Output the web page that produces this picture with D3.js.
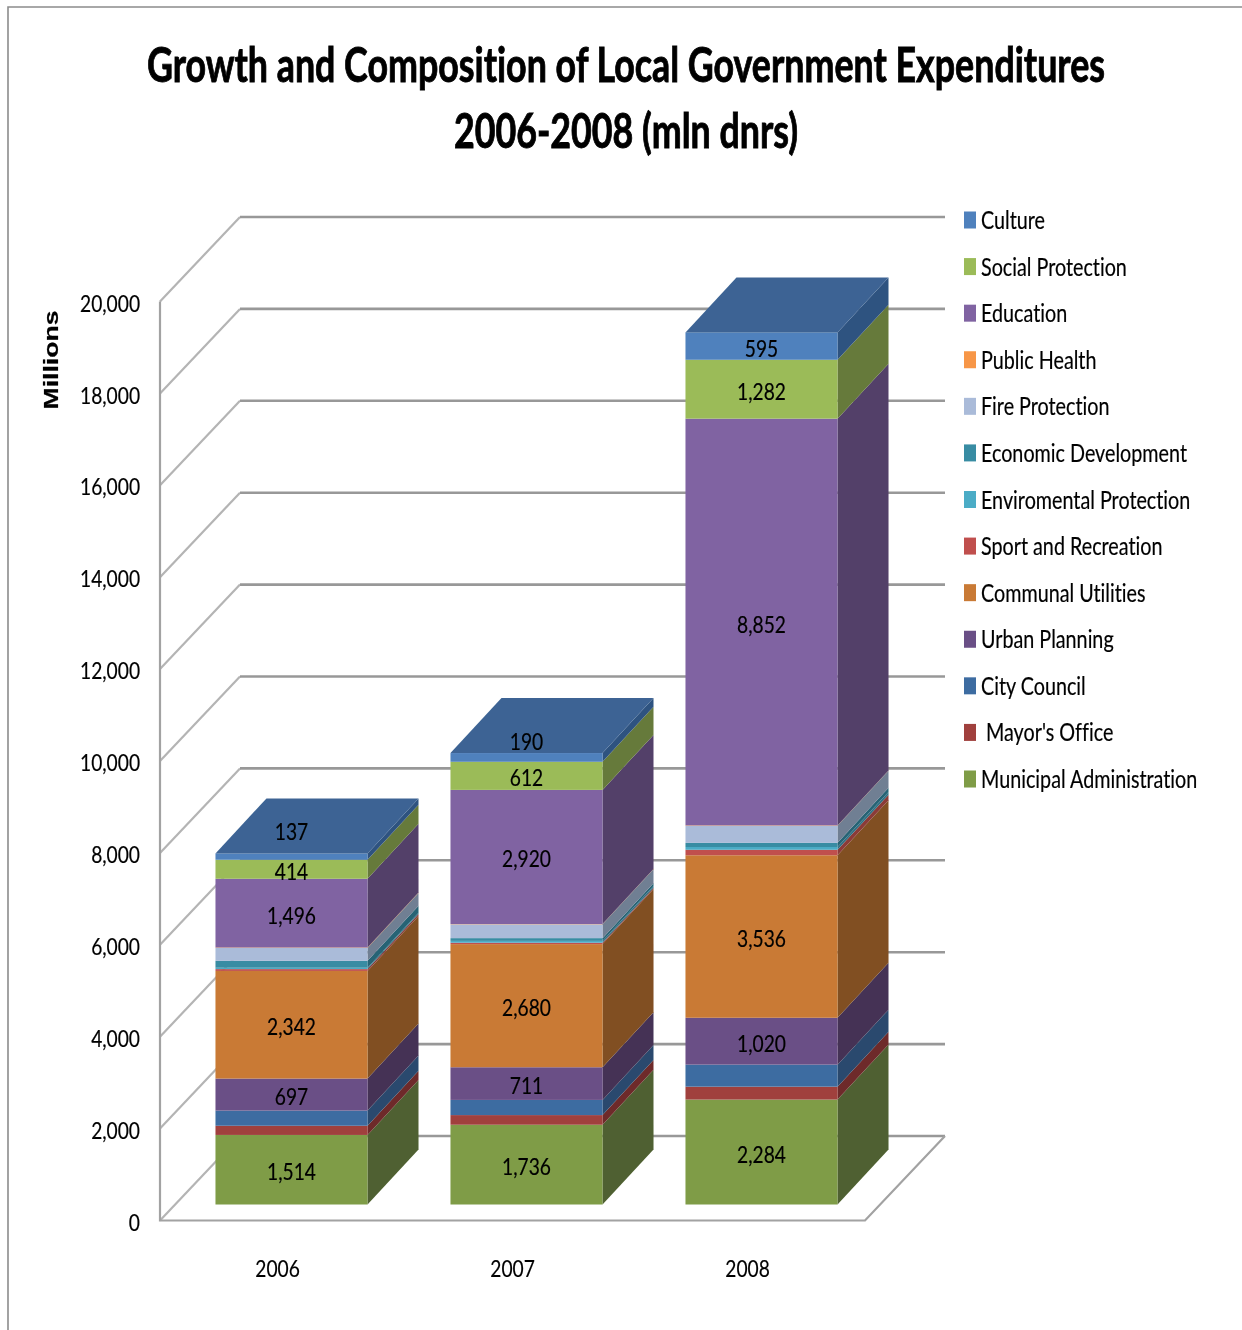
<!DOCTYPE html>
<html>
<head>
<meta charset="utf-8">
<title>Growth and Composition of Local Government Expenditures</title>
<script src="https://cdn.jsdelivr.net/npm/d3@7"></script>
<style>
html,body{margin:0;padding:0;background:#fff;overflow:hidden}
svg{display:block}
text{font-family:Lato,"Open Sans",sans-serif;fill:#000;stroke:#000;stroke-width:0.2px;font-variant-ligatures:none}
</style>
</head>
<body>
<div id="chart"></div>
<script>
// ---- data ----
const years = ["2006", "2007", "2008"];
const municipalAdministration = [1514, 1736, 2284];
const mayorsOffice = [200, 210, 280];
const cityCouncil = [330, 330, 480];
const urbanPlanning = [697, 711, 1020];
const communalUtilities = [2342, 2680, 3536];
const sportAndRecreation = [40, 30, 120];
const enviromentalProtection = [30, 40, 60];
const economicDevelopment = [150, 60, 90];
const fireProtection = [280, 300, 370];
const publicHealth = [10, 6, 10];
const education = [1496, 2920, 8852];
const socialProtection = [414, 612, 1282];
const culture = [137, 190, 595];

const titleLines = ["Growth and Composition of Local Government Expenditures", "2006-2008 (mln dnrs)"];
const yTicks = [0, 2000, 4000, 6000, 8000, 10000, 12000, 14000, 16000, 18000, 20000];

// bottom-to-top stack order
const seriesNames = ["Municipal Administration", " Mayor's Office", "City Council", "Urban Planning",
  "Communal Utilities", "Sport and Recreation", "Enviromental Protection", "Economic Development",
  "Fire Protection", "Public Health", "Education", "Social Protection", "Culture"];
const seriesValues = [municipalAdministration, mayorsOffice, cityCouncil, urbanPlanning,
  communalUtilities, sportAndRecreation, enviromentalProtection, economicDevelopment,
  fireProtection, publicHealth, education, socialProtection, culture];
const labelledSeries = ["Municipal Administration", "Urban Planning", "Communal Utilities", "Education", "Social Protection", "Culture"];

const frontColors = ["#7f9c47", "#a03f3e", "#3e6ca1", "#6b4f86", "#c97a35", "#c0504d", "#4bacc6", "#388ca3", "#aabbd9", "#f79646", "#8064a2", "#9bbb59", "#4f81bd"];
const sideColors = ["#4f6130", "#6e2c2b", "#2a4a6e", "#453355", "#815024", "#8b3a37", "#2f7084", "#266374", "#6f7f93", "#b06a30", "#533f69", "#667a3a", "#2f5380"];
const topColor = "#3c6494";

// ---- layout ----
const W = 1242, H = 1330;
const narrow = 0.80;
const wallDX = 80, wallDY = 84.5;    // floor depth
const barDX = 51, barDY = 55;        // bar depth
const gapDX = 14, gapDY = 16;        // bar front set back from the floor's front edge

const x = d3.scaleBand().domain(years).range([160, 865]).paddingInner(0).paddingOuter(0);
const y = d3.scaleLinear().domain([0, 20000]).range([1220.5, 301.5]);
const barW = x.bandwidth() * 0.647;
const barX = yr => x(yr) + (x.bandwidth() - barW) / 2 + gapDX;
const barY = v => y(v) - gapDY;

const table = years.map((yr, i) => {
  const row = {year: yr};
  seriesNames.forEach((n, s) => row[n] = seriesValues[s][i]);
  return row;
});
const stacked = d3.stack().keys(seriesNames)(table);
const color = d3.scaleOrdinal(seriesNames, frontColors);
const side = d3.scaleOrdinal(seriesNames, sideColors);

const svg = d3.select("#chart").append("svg").attr("width", W).attr("height", H).attr("viewBox", `0 0 ${W} ${H}`);
const defs = svg.append("defs");
defs.append("filter").attr("id", "soft").attr("filterUnits", "userSpaceOnUse")
  .attr("x", 0).attr("y", 0).attr("width", W).attr("height", H)
  .append("feGaussianBlur").attr("stdDeviation", 0.55);
const root = svg.append("g").attr("filter", "url(#soft)");

// outer frame
root.append("path").attr("d", `M8,${H}V7H${W}`).attr("fill", "none").attr("stroke", "#8c8c8c").attr("stroke-width", 1.6);

// title
root.selectAll(".title").data(titleLines).join("text").attr("class", "title")
  .attr("transform", (d, i) => `translate(626,${82 + i * 66}) scale(0.746,1)`)
  .attr("text-anchor", "middle").attr("font-size", 48).attr("font-weight", 700)
  .style("stroke-width", "0.9px").text(d => d);

// walls
const walls = root.append("g").attr("fill", "none");
walls.selectAll(".diag").data(yTicks).join("line").attr("class", "diag")
  .attr("x1", x.range()[0]).attr("y1", d => y(d))
  .attr("x2", x.range()[0] + wallDX).attr("y2", d => y(d) - wallDY)
  .attr("stroke", "#b4b4b4").attr("stroke-width", 2.2);
walls.selectAll(".grid").data(yTicks).join("line").attr("class", "grid")
  .attr("x1", x.range()[0] + wallDX).attr("y1", d => y(d) - wallDY)
  .attr("x2", x.range()[1] + wallDX).attr("y2", d => y(d) - wallDY)
  .attr("stroke", "#989898").attr("stroke-width", 2.6);
walls.append("path")
  .attr("d", `M${x.range()[0]},${y(20000)}V${y(0)}H${x.range()[1]}L${x.range()[1] + wallDX},${y(0) - wallDY}`)
  .attr("stroke", "#a2a2a2").attr("stroke-width", 2.2);

// bars
const layers = root.append("g").selectAll("g").data(stacked).join("g");
layers.selectAll(".side").data(d => d.map(p => ({p, key: d.key}))).join("polygon").attr("class", "side")
  .attr("fill", d => side(d.key))
  .attr("points", d => {
    const xr = barX(d.p.data.year) + barW, y0 = barY(d.p[0]), y1 = barY(d.p[1]);
    return [[xr, y0], [xr + barDX, y0 - barDY], [xr + barDX, y1 - barDY], [xr, y1]].join(" ");
  });
layers.selectAll(".front").data(d => d.map(p => ({p, key: d.key}))).join("rect").attr("class", "front")
  .attr("fill", d => color(d.key))
  .attr("x", d => barX(d.p.data.year)).attr("width", barW)
  .attr("y", d => barY(d.p[1])).attr("height", d => barY(d.p[0]) - barY(d.p[1]));
const topLayer = stacked[stacked.length - 1];
root.append("g").selectAll("polygon").data(topLayer).join("polygon")
  .attr("fill", topColor)
  .attr("points", d => {
    const xl = barX(d.data.year), yt = barY(d[1]);
    return [[xl, yt], [xl + barW, yt], [xl + barW + barDX, yt - barDY], [xl + barDX, yt - barDY]].join(" ");
  });

// value labels
const lift = {"Culture|2006": -27, "Culture|2007": -18}; // labels the source pushes up onto the bar top
const labelLayers = stacked.filter(s => labelledSeries.includes(s.key));
root.append("g").selectAll("g").data(labelLayers).join("g").selectAll("text")
  .data(s => s.map(p => ({p, key: s.key}))).join("text")
  .attr("transform", d => {
    const cy = (barY(d.p[0]) + barY(d.p[1])) / 2 + (lift[d.key + "|" + d.p.data.year] || 0) + 10.5;
    return `translate(${barX(d.p.data.year) + barW / 2},${cy}) scale(${narrow},1)`;
  })
  .attr("text-anchor", "middle").attr("font-size", 24)
  .text(d => d3.format(",")(d.p[1] - d.p[0]));

// y axis labels
const yAxis = root.append("g").attr("transform", `translate(${x.range()[0]},2)`)
  .call(d3.axisLeft(y).tickValues(yTicks).tickFormat(d3.format(",")).tickSize(0).tickPadding(20));
yAxis.select(".domain").remove();
yAxis.selectAll("text").attr("font-size", 24)
  .attr("x", -20 / narrow).attr("transform", `scale(${narrow},1)`);
yAxis.attr("font-family", null).attr("font-size", null);

// x axis labels
const xAxis = root.append("g").attr("transform", `translate(0,1277)`)
  .call(d3.axisBottom(x).tickSize(0).tickPadding(0));
xAxis.select(".domain").remove();
xAxis.attr("font-family", null).attr("font-size", null);
xAxis.selectAll("text").attr("font-size", 24).attr("y", 0).attr("dy", 0).attr("transform", `scale(${narrow},1)`);

// y axis title
root.append("text")
  .attr("transform", "translate(58,360) rotate(-90) scale(1.33,1)")
  .attr("text-anchor", "middle").attr("font-size", 20).attr("font-weight", 700)
  .style("font-family", '"Liberation Sans",sans-serif').text("Millions");

// legend, top row is the last series
const legendOrder = seriesNames.slice().reverse();
const rowY = d3.scalePoint().domain(legendOrder).range([220, 779]);
const legend = root.append("g").selectAll("g").data(legendOrder).join("g")
  .attr("transform", d => `translate(964,${rowY(d)})`);
legend.append("rect").attr("y", -8.5).attr("width", 12).attr("height", 17).attr("fill", d => color(d));
legend.append("text").attr("transform", d => `translate(${d.startsWith(" ") ? 22 : 17},9) scale(0.79,1)`)
  .attr("font-size", 25).text(d => d.trim());
</script>
</body>
</html>
